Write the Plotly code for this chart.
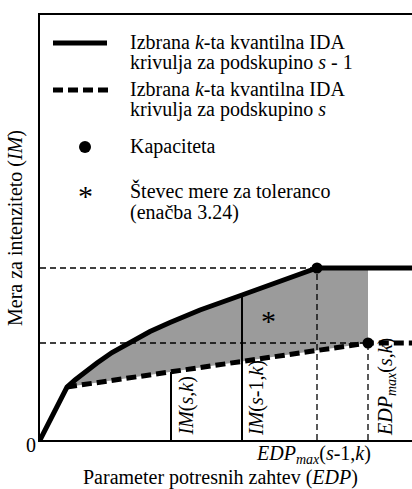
import plotly.graph_objects as go

# ---- data (EDP / IM in arbitrary units) ----
edp_s1 = [0.0, 0.27, 0.35, 0.45, 0.57, 0.72, 0.90, 1.10, 1.30, 1.60, 2.02, 2.40, 2.77, 3.72]
im_s1  = [0.0, 0.53, 0.60, 0.68, 0.77, 0.875, 0.98, 1.085, 1.175, 1.30, 1.45, 1.585, 1.72, 1.72]
edp_s  = [0.27, 3.28, 3.72]                                       # curve for subgroup s
im_s   = [0.53, 0.97, 0.97]
cap_edp = [2.77, 3.28]                                            # capacity points
cap_im  = [1.72, 0.97]
im_sk_edp, im_sk = 1.31, 0.68          # IM(s,k)
im_s1k_edp, im_s1k = 2.02, 1.45        # IM(s-1,k)
star_edp, star_im = 2.28, 1.23

X_MAX, Y_MAX = 3.72, 4.25
W, H = 412, 489
ML, MT, MB = 40, 15, 49

FONT = "Liberation Serif"

def px_x(px):
    return (px - ML) / (W - ML) * X_MAX

def px_y(py):
    return (H - MB - py) / (H - MB - MT) * Y_MAX

def pp_x(px):
    return (px - ML) / (W - ML)

def pp_y(py):
    return (H - MB - py) / (H - MB - MT)

fig = go.Figure()

# shaded area between curves
upper_x = [x for x in edp_s1 if 0.27 <= x <= cap_edp[0]] + [cap_edp[1]]
upper_y = [y for x, y in zip(edp_s1, im_s1) if 0.27 <= x <= cap_edp[0]] + [cap_im[0]]
lower_x = edp_s[:2][::-1]
lower_y = im_s[:2][::-1]
fig.add_trace(go.Scatter(x=upper_x + lower_x, y=upper_y + lower_y, fill="toself",
                         fillcolor="#9b9b9b", mode="none", hoverinfo="skip"))

thin_dash = dict(color="black", width=1.3, dash="6px,4px")
for ex, iy in zip(cap_edp, cap_im):
    fig.add_trace(go.Scatter(x=[0, ex], y=[iy, iy], mode="lines", line=thin_dash))
    fig.add_trace(go.Scatter(x=[ex, ex], y=[0, iy], mode="lines", line=thin_dash))

# thin vertical solid lines
for ex, iy in [(im_sk_edp, im_sk), (im_s1k_edp, im_s1k)]:
    fig.add_trace(go.Scatter(x=[ex, ex], y=[0, iy], mode="lines",
                             line=dict(color="black", width=2)))

# main curves
fig.add_trace(go.Scatter(x=edp_s1, y=im_s1, mode="lines",
                         line=dict(color="black", width=5)))
fig.add_trace(go.Scatter(x=edp_s, y=im_s, mode="lines",
                         line=dict(color="black", width=5, dash="10px,5px")))
fig.add_trace(go.Scatter(x=cap_edp, y=cap_im, mode="markers",
                         marker=dict(color="black", size=11)))

# ---- legend drawn by hand ----
fig.add_trace(go.Scatter(x=[px_x(53), px_x(107)], y=[px_y(43), px_y(43)], mode="lines",
                         line=dict(color="black", width=5)))
fig.add_trace(go.Scatter(x=[px_x(53), px_x(111)], y=[px_y(90), px_y(90)], mode="lines",
                         line=dict(color="black", width=5, dash="10px,5px")))
fig.add_trace(go.Scatter(x=[px_x(85)], y=[px_y(147)], mode="markers",
                         marker=dict(color="black", size=12)))

annots = []
def txt(text, px, py, size=20, **kw):
    d = dict(text=text, x=pp_x(px), y=pp_y(py), xref="paper", yref="paper",
             showarrow=False, font=dict(family=FONT, size=size, color="black"))
    d.update(kw)
    annots.append(d)

legend_lines = [
    ("Izbrana <i>k</i>-ta kvantilna IDA", 42),
    ("krivulja za podskupino <i>s</i> - 1", 63),
    ("Izbrana <i>k</i>-ta kvantilna IDA", 89),
    ("krivulja za podskupino <i>s</i>", 110),
    ("Kapaciteta", 147),
    ("Števec mere za toleranco", 191),
    ("(enačba 3.24)", 212),
]
for t, py in legend_lines:
    txt(t, 128, py, xanchor="left", yanchor="middle")

# asterisks
txt("*", 85, 195, size=30, xanchor="center", yanchor="middle")
annots.append(dict(text="*", x=star_edp, y=star_im, xref="x", yref="y", showarrow=False,
                   yshift=-3, font=dict(family=FONT, size=30, color="black")))

# rotated labels
txt("<i>IM</i>(<i>s</i>,<i>k</i>)", 186, 438, textangle=-90,
    xanchor="center", yanchor="bottom")
txt("<i>IM</i>(<i>s</i>-1,<i>k</i>)", 256, 438, textangle=-90,
    xanchor="center", yanchor="bottom")
txt("<i>EDP</i><sub><i>max</i></sub>(<i>s</i>,<i>k</i>)", 386, 438, textangle=-90,
    xanchor="center", yanchor="bottom")
txt("<i>EDP</i><sub><i>max</i></sub>(<i>s</i>-1,<i>k</i>)", 313, 454,
    xanchor="center", yanchor="middle")
txt("0", 31, 445, xanchor="center", yanchor="middle")
txt("Parameter potresnih zahtev (<i>EDP</i>)", 220, 477,
    xanchor="center", yanchor="middle")
txt("Mera za intenziteto (<i>IM</i>)", 15, 228, textangle=-90,
    xanchor="center", yanchor="middle")

fig.update_layout(
    width=W, height=H, autosize=False,
    margin=dict(l=ML, r=0, t=MT, b=MB, pad=0),
    plot_bgcolor="white", paper_bgcolor="white",
    showlegend=False,
    annotations=annots,
    font=dict(family=FONT, size=20, color="black"),
    xaxis=dict(range=[0, X_MAX], showgrid=False, zeroline=False, showticklabels=False,
               ticks="", showline=True, mirror=True, linecolor="black", linewidth=1.5),
    yaxis=dict(range=[0, Y_MAX], showgrid=False, zeroline=False, showticklabels=False,
               ticks="", showline=True, linecolor="black", linewidth=1.5),
)
for tr in fig.data:
    tr.hoverinfo = "skip"
    tr.cliponaxis = False

fig.write_html("out.html", config={"displayModeBar": False},
               post_script="document.body.style.margin='0';document.body.style.overflow='hidden';")
